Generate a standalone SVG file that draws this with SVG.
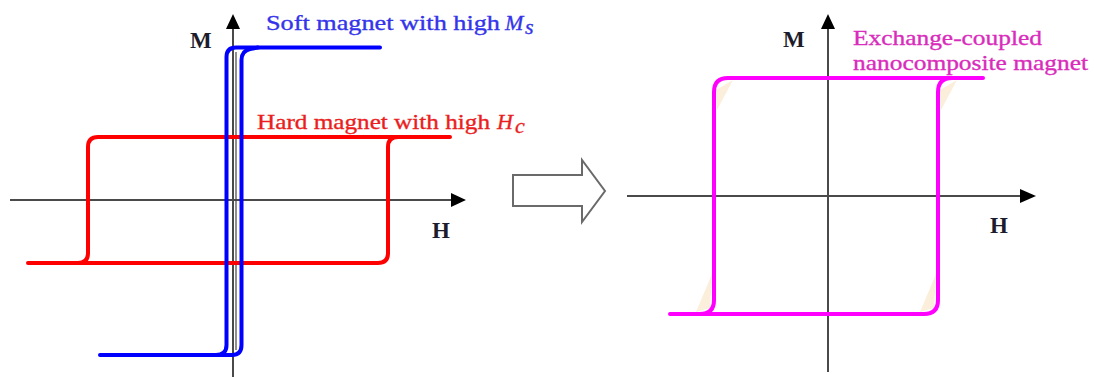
<svg xmlns="http://www.w3.org/2000/svg" width="1094" height="377" viewBox="0 0 1094 377">
  <style>
    .axis { stroke: #4a4a4a; stroke-width: 2; fill: none; }
    .head { fill: #000; }
    .loop { fill: none; stroke-width: 4; stroke-linecap: round; stroke-linejoin: round; }
    .blue { stroke: #0000ff; }
    .red { stroke: #ff0000; }
    .mag { stroke: #ff00ff; }
    .lbl { font-family: "Liberation Serif", "DejaVu Serif", serif; font-size: 23px; font-weight: bold; fill: #1c1c2c; }
    .cap { font-family: "Liberation Serif", "DejaVu Serif", serif; font-size: 22px; stroke-width: 0.35; }
    .wedge { fill: #fbeedb; stroke: none; }
  </style>
  <rect width="1094" height="377" fill="#ffffff"/>

  <g id="left-axes">
    <line class="axis" x1="10" y1="200" x2="453" y2="200"/>
    <polygon class="head" points="451,193 466,200 451,207"/>
    <line class="axis" x1="233" y1="377" x2="233" y2="27"/>
    <polygon class="head" points="226,29 233,14 240,29"/>
    <line x1="236" y1="52" x2="236" y2="350" stroke="#444" stroke-width="1.2"/>
    <text class="lbl" x="190" y="48">M</text>
    <text class="lbl" x="432" y="238">H</text>
  </g>

  <g id="hard-magnet">
    <path class="loop red" d="M 28 263 L 78 263 Q 88 263 88 253 L 88 147 Q 88 137 98 137 L 450 137"/>
    <path class="loop red" d="M 78 263 L 378 263 Q 388 263 388 253 L 388 147 Q 388 137 398 137"/>
    <text class="cap" fill="#ea1e1e" stroke="#ea1e1e" x="257" y="129" textLength="233" lengthAdjust="spacingAndGlyphs">Hard magnet with high</text>
    <text class="cap" fill="#ea1e1e" stroke="#ea1e1e" x="497" y="129" font-style="italic">H</text>
    <text class="cap" fill="#ea1e1e" stroke="#ea1e1e" x="515" y="133" font-style="italic" font-size="15">c</text>
  </g>

  <g id="soft-magnet">
    <path class="loop blue" d="M 100 355 L 216 355 Q 226.5 355 226.5 345 L 226.5 57 Q 226.5 47.5 236 47.5 L 380 47.5"/>
    <path class="loop blue" d="M 216 355 L 232 355 Q 241.5 355 241.5 345 L 241.5 60 Q 241.5 51 250 49 L 258 47.5"/>
    <text class="cap" fill="#3434ea" stroke="#3434ea" x="266" y="30" textLength="234" lengthAdjust="spacingAndGlyphs">Soft magnet with high</text>
    <text class="cap" fill="#3434ea" stroke="#3434ea" x="505" y="30" font-style="italic" font-size="19">M</text>
    <text class="cap" fill="#3434ea" stroke="#3434ea" x="525" y="34" font-style="italic" font-size="14">s</text>
  </g>

  <g id="transform-arrow">
    <polygon points="513,175 582,175 582,160 605,191 582,222 582,206 513,206" fill="#ffffff" stroke="#6a6a6a" stroke-width="2" stroke-linejoin="miter"/>
  </g>

  <g id="right-axes">
    <line class="axis" x1="627" y1="196" x2="1022" y2="196"/>
    <polygon class="head" points="1020,189 1036,196 1020,203"/>
    <line class="axis" x1="828" y1="372" x2="828" y2="27"/>
    <polygon class="head" points="821,29 828,14 835,29"/>
    <text class="lbl" x="783" y="47" font-size="25">M</text>
    <text class="lbl" x="990" y="233">H</text>
  </g>

  <g id="nanocomposite-magnet">
    <polygon class="wedge" points="733,80 717,110 716,90"/>
    <polygon class="wedge" points="957,80 941,110 940,90"/>
    <polygon class="wedge" points="712,274 696,312 710,308"/>
    <polygon class="wedge" points="936,274 920,312 934,308"/>
    <path class="loop mag" d="M 670 314 L 700 314 Q 714 314 714 300 L 714 92 Q 714 78 728 78 L 983 78"/>
    <path class="loop mag" d="M 700 314 L 924 314 Q 938 314 938 300 L 938 92 Q 938 78 952 78"/>
    <text class="cap" fill="#d92cbc" stroke="#d92cbc" x="853" y="45" textLength="189" lengthAdjust="spacingAndGlyphs">Exchange-coupled</text>
    <text class="cap" fill="#d92cbc" stroke="#d92cbc" x="853" y="70" textLength="235" lengthAdjust="spacingAndGlyphs">nanocomposite magnet</text>
  </g>
</svg>
